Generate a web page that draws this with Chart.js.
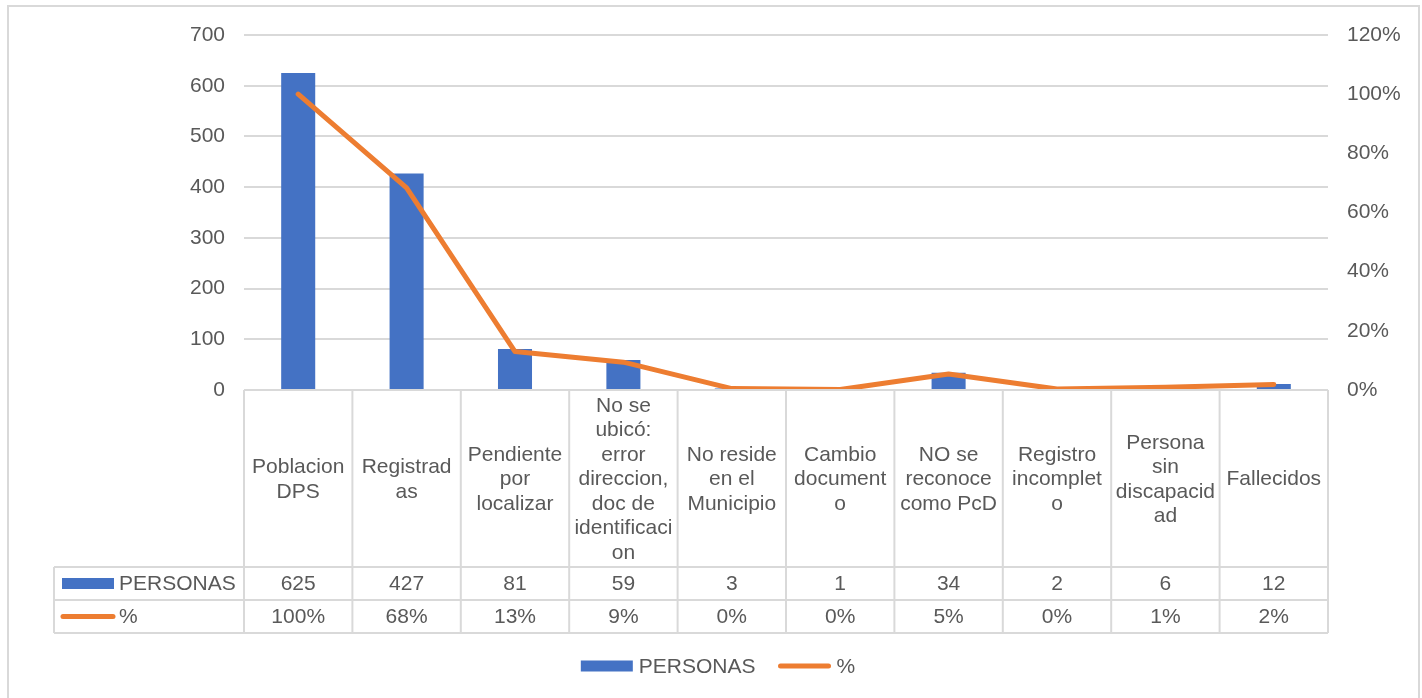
<!DOCTYPE html>
<html><head><meta charset="utf-8">
<script src="https://cdn.jsdelivr.net/npm/chart.js@4.4.0/dist/chart.umd.min.js"></script>
<style>html,body{margin:0;padding:0;background:#fff;}canvas{display:block}</style>
</head><body>
<canvas id="c" width="1422" height="698"></canvas>
<script>
// ---- data ----
const categories = [
  ["Poblacion","DPS"],
  ["Registrad","as"],
  ["Pendiente","por","localizar"],
  ["No se","ubicó:","error","direccion,","doc de","identificaci","on"],
  ["No reside","en el","Municipio"],
  ["Cambio","document","o"],
  ["NO se","reconoce","como PcD"],
  ["Registro","incomplet","o"],
  ["Persona","sin","discapacid","ad"],
  ["Fallecidos"]
];
const personas = [625, 427, 81, 59, 3, 1, 34, 2, 6, 12];
const porcentaje = [1.00, 0.683, 0.13, 0.094, 0.0048, 0.0016, 0.054, 0.0032, 0.0096, 0.019];
const seriesNames = ["PERSONAS", "%"];
const leftAxis = {min: 0, max: 700, step: 100};
const rightAxis = {min: 0, max: 1.2, step: 0.2};

const BLUE = '#4472C4', ORANGE = '#ED7D31', GRID = '#d9d9d9', TXT = '#595959';
const FONT = '"Liberation Sans", Arial, sans-serif';
const FS = 21;

const tablePlugin = {
  id: 'tablePlugin',
  beforeDraw(chart) {
    const ctx = chart.ctx;
    ctx.save();
    ctx.strokeStyle = GRID; ctx.lineWidth = 2;
    ctx.strokeRect(8, 6, 1411, 700);
    ctx.restore();
  },
  afterDraw(chart) {
    const ctx = chart.ctx, a = chart.chartArea, xs = chart.scales.x;
    const n = categories.length;
    const cw = (a.right - a.left) / n;
    const r0 = a.bottom, r1 = r0 + 177, r2 = r1 + 33, r3 = r2 + 33;
    const leftX = 54;
    ctx.save();
    ctx.strokeStyle = GRID; ctx.lineWidth = 2;
    ctx.beginPath();
    ctx.moveTo(a.left, r0); ctx.lineTo(a.right, r0);
    [r1, r2, r3].forEach(y => { ctx.moveTo(leftX, y); ctx.lineTo(a.right, y); });
    for (let i = 0; i <= n; i++) {
      const x = xs.getPixelForValue(0) - cw / 2 + i * cw;
      ctx.moveTo(x, r0); ctx.lineTo(x, r3);
    }
    ctx.moveTo(leftX, r1); ctx.lineTo(leftX, r3);
    ctx.stroke();

    ctx.fillStyle = TXT;
    ctx.font = FS + 'px ' + FONT;
    ctx.textAlign = 'center'; ctx.textBaseline = 'middle';
    const lh = 24.5;
    categories.forEach((lines, i) => {
      const cx = xs.getPixelForValue(i);
      const cy = (r0 + r1) / 2;
      const y0 = cy - (lines.length - 1) * lh / 2;
      lines.forEach((t, j) => ctx.fillText(t, cx, y0 + j * lh + 1));
      ctx.fillText(String(personas[i]), cx, (r1 + r2) / 2 + 1);
      ctx.fillText(Math.round(porcentaje[i] * 100) + '%', cx, (r2 + r3) / 2 + 1);
    });

    // table legend keys
    ctx.textAlign = 'left';
    ctx.fillStyle = BLUE;
    ctx.fillRect(62, (r1 + r2) / 2 - 5.5, 52, 11);
    ctx.fillStyle = TXT;
    ctx.fillText(seriesNames[0], 119, (r1 + r2) / 2 + 1);
    ctx.strokeStyle = ORANGE; ctx.lineWidth = 5; ctx.lineCap = 'round';
    ctx.beginPath(); ctx.moveTo(63, (r2 + r3) / 2); ctx.lineTo(113, (r2 + r3) / 2); ctx.stroke();
    ctx.fillText(seriesNames[1], 119, (r2 + r3) / 2 + 1);

    // bottom legend
    const ly = 666;
    const w1 = ctx.measureText(seriesNames[0]).width, w2 = ctx.measureText(seriesNames[1]).width;
    const total = 52 + 6 + w1 + 23 + 52 + 6 + w2;
    let x = 718 - total / 2;
    ctx.fillStyle = BLUE; ctx.fillRect(x, ly - 5.5, 52, 11);
    x += 58; ctx.fillStyle = TXT; ctx.fillText(seriesNames[0], x, ly + 1);
    x += w1 + 23;
    ctx.beginPath(); ctx.moveTo(x + 2, ly); ctx.lineTo(x + 50, ly); ctx.stroke();
    x += 58; ctx.fillText(seriesNames[1], x, ly + 1);
    ctx.restore();
  }
};

new Chart(document.getElementById('c'), {
  data: {
    labels: categories.map(l => l.join(' ')),
    datasets: [
      { type: 'line', label: seriesNames[1], data: porcentaje, yAxisID: 'y1',
        borderColor: ORANGE, backgroundColor: ORANGE, borderWidth: 5, pointRadius: 0,
        borderCapStyle: 'round', borderJoinStyle: 'round', tension: 0, order: 0 },
      { type: 'bar', label: seriesNames[0], data: personas, yAxisID: 'y',
        backgroundColor: BLUE, barPercentage: 0.314, categoryPercentage: 1, order: 1 }
    ]
  },
  options: {
    responsive: false, animation: false, devicePixelRatio: 1,
    layout: { padding: { top: 35, left: 0, right: 0, bottom: 0 } },
    plugins: { legend: { display: false }, tooltip: { enabled: false } },
    scales: {
      x: { type: 'category', ticks: { display: false }, grid: { display: false }, border: { display: false },
           afterFit: s => { s.height = 308; } },
      y: { position: 'left', min: leftAxis.min, max: leftAxis.max,
           ticks: { stepSize: leftAxis.step, padding: 19, color: TXT, font: { size: FS, family: FONT } },
           grid: { color: GRID, lineWidth: 2, drawTicks: false }, border: { display: false },
           afterFit: s => { s.width = 244; } },
      y1: { position: 'right', min: rightAxis.min, max: rightAxis.max,
           ticks: { stepSize: rightAxis.step, padding: 19, color: TXT, font: { size: FS, family: FONT },
                    callback: v => Math.round(v * 100) + '%' },
           grid: { display: false, drawTicks: false }, border: { display: false },
           afterFit: s => { s.width = 94; } }
    }
  },
  plugins: [tablePlugin]
});
</script>
</body></html>
